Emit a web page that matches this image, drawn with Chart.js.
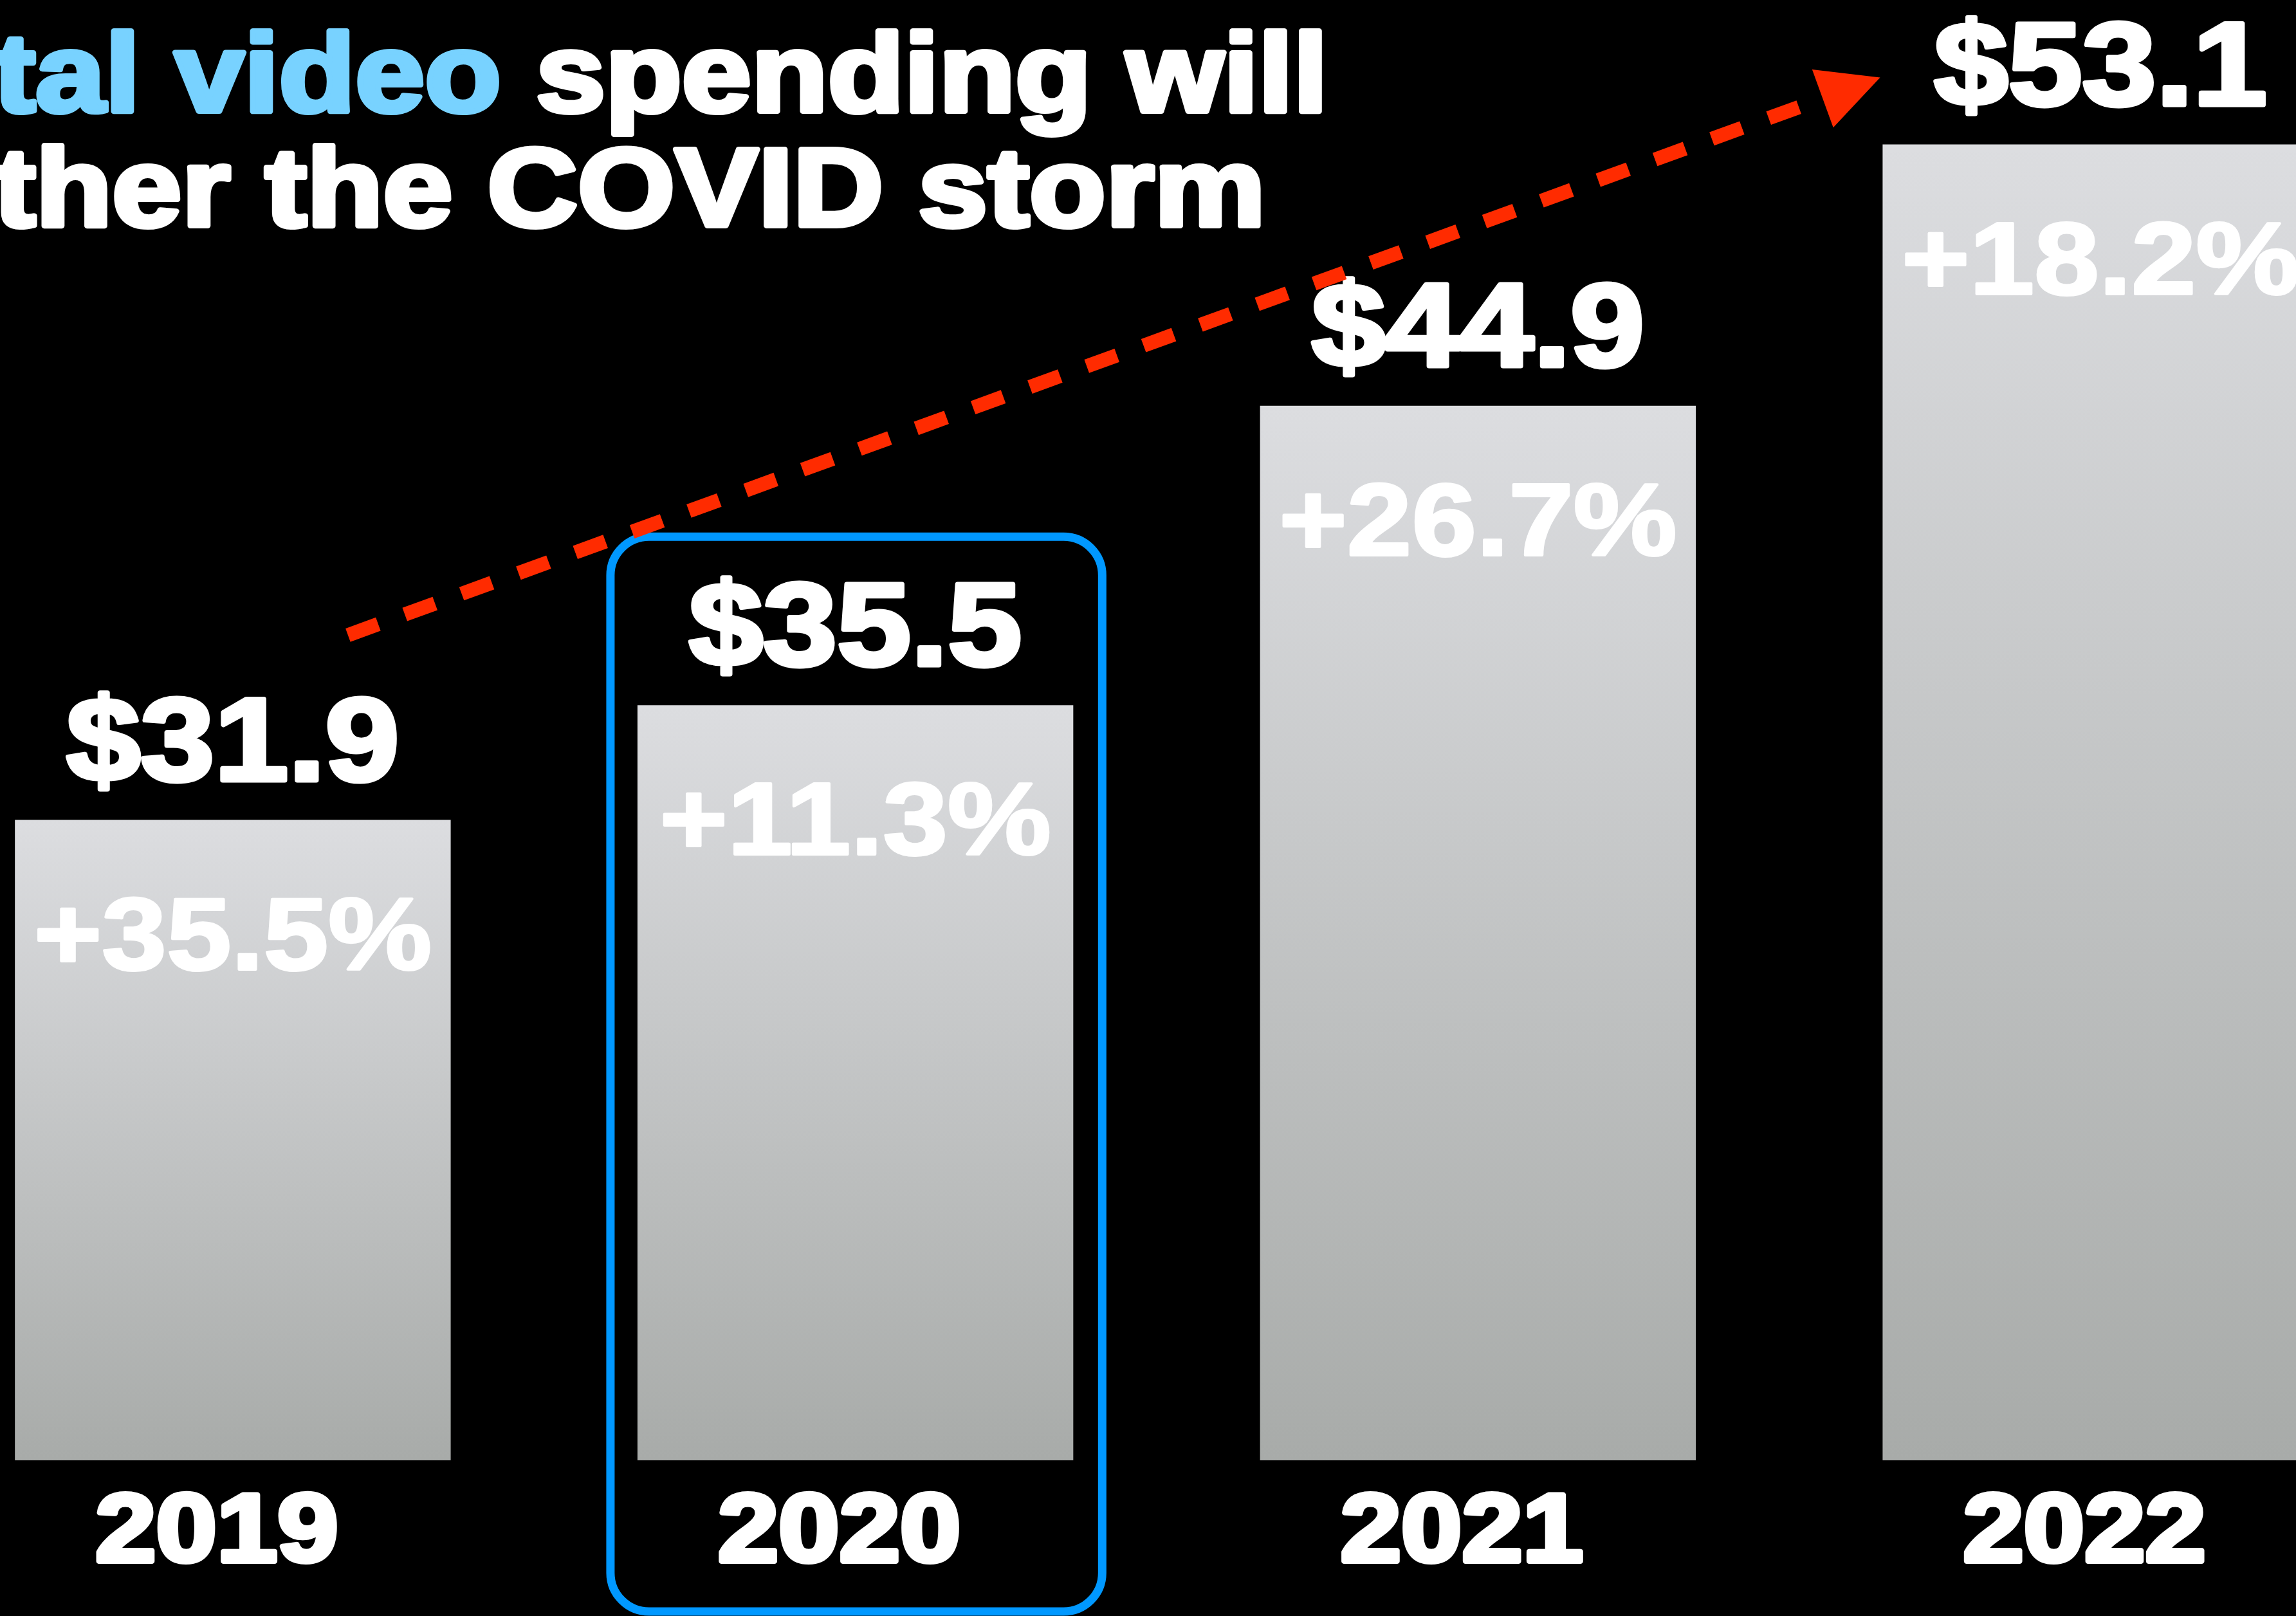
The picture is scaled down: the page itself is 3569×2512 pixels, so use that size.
<!DOCTYPE html>
<html>
<head>
<meta charset="utf-8">
<script src="https://cdn.jsdelivr.net/npm/chart.js@4.4.1/dist/chart.umd.min.js"></script>
<style>
    html, body { margin: 0; padding: 0; background: #000; overflow: hidden; }
    body { width: 3569px; height: 2512px; position: relative; }
    #chart { position: absolute; left: -122px; top: 0; }
</style>
</head>
<body>
<canvas id="chart" width="3871" height="2512"></canvas>
<script>
const years = ['2019', '2020', '2021', '2022'];
const spending = [31.9, 35.5, 44.9, 53.1];      // US$ billions
const growth = [35.5, 11.3, 26.7, 18.2];        // % change vs prior year
const highlightYear = '2020';
const titleLines = [
    [['Digital video', '#78d2ff'], [' spending will', '#ffffff']],
    [['weather the COVID storm', '#ffffff']]
];
// dashed trend arrow, in category index / value units
const arrowFrom = { x: 0.185, y: 37.7 };
const arrowTo = { x: 2.646, y: 55.2 };

const FONT = '"Liberation Sans", Arial, sans-serif';
const STRETCH = 1.13;

// wide, extra-heavy text: bold face stretched sideways plus an outline of the same colour
function heavyText(ctx, text, x, y, size, color, weight, align) {
    ctx.save();
    ctx.translate(x, y);
    ctx.scale(STRETCH, 1);
    ctx.font = 'bold ' + size + 'px ' + FONT;
    ctx.fillStyle = color;
    ctx.strokeStyle = color;
    ctx.lineWidth = weight;
    ctx.lineJoin = 'round';
    ctx.textAlign = align || 'center';
    ctx.textBaseline = 'alphabetic';
    ctx.fillText(text, 0, 0);
    if (weight > 0) {
        ctx.strokeText(text, 0, 0);
    }
    ctx.restore();
}

function textWidth(ctx, text, size) {
    ctx.save();
    ctx.font = 'bold ' + size + 'px ' + FONT;
    const w = ctx.measureText(text).width * STRETCH;
    ctx.restore();
    return w;
}

function roundRectPath(ctx, x0, y0, x1, y1, r) {
    ctx.beginPath();
    ctx.moveTo(x0 + r, y0);
    ctx.lineTo(x1 - r, y0);
    ctx.arcTo(x1, y0, x1, y0 + r, r);
    ctx.lineTo(x1, y1 - r);
    ctx.arcTo(x1, y1, x1 - r, y1, r);
    ctx.lineTo(x0 + r, y1);
    ctx.arcTo(x0, y1, x0, y1 - r, r);
    ctx.lineTo(x0, y0 + r);
    ctx.arcTo(x0, y0, x0 + r, y0, r);
    ctx.closePath();
}

const overlay = {
    id: 'overlay',
    afterDatasetsDraw(chart) {
        const ctx = chart.ctx;
        const area = chart.chartArea;
        const xs = chart.scales.x;
        const ys = chart.scales.y;
        const bars = chart.getDatasetMeta(0).data;

        // headline, its left end runs off the canvas edge
        const titleSize = 172;
        const firstWidth = titleLines[0].reduce((w, p) => w + textWidth(ctx, p[0], titleSize), 0);
        const titleX = 2186 - firstWidth;
        titleLines.forEach((parts, row) => {
            let x = titleX;
            parts.forEach(([text, color]) => {
                heavyText(ctx, text, x, 173 + row * 178, titleSize, color, 8, 'left');
                x += textWidth(ctx, text, titleSize);
            });
        });

        bars.forEach((bar, i) => {
            heavyText(ctx, '$' + spending[i].toFixed(1), bar.x, bar.y - 62, 183, '#ffffff', 7);
            heavyText(ctx, '+' + growth[i].toFixed(1) + '%', bar.x, bar.y + 232, 160, '#ffffff', 4);
            heavyText(ctx, years[i], bar.x - 25, area.bottom + 157, 150, '#ffffff', 8);
        });

        // outline around the highlighted year
        const hb = bars[years.indexOf(highlightYear)];
        ctx.save();
        ctx.strokeStyle = '#0098ff';
        ctx.lineWidth = 13;
        roundRectPath(ctx, hb.x - hb.width / 2 - 42, hb.y - 262,
            hb.x + hb.width / 2 + 45, chart.height - 7, 60);
        ctx.stroke();
        ctx.restore();

        // dashed growth arrow
        const sx = xs.getPixelForValue(arrowFrom.x);
        const sy = ys.getPixelForValue(arrowFrom.y);
        const ex = xs.getPixelForValue(arrowTo.x);
        const ey = ys.getPixelForValue(arrowTo.y);
        const ang = Math.atan2(ey - sy, ex - sx);
        const headLen = 95;
        const headHalf = 48;
        const bx = ex - Math.cos(ang) * headLen;
        const by = ey - Math.sin(ang) * headLen;
        ctx.save();
        ctx.strokeStyle = '#ff2b00';
        ctx.fillStyle = '#ff2b00';
        ctx.lineWidth = 22;
        ctx.lineCap = 'butt';
        ctx.setLineDash([50, 44]);
        ctx.beginPath();
        ctx.moveTo(sx, sy);
        ctx.lineTo(bx + Math.cos(ang) * 10, by + Math.sin(ang) * 10);
        ctx.stroke();
        ctx.setLineDash([]);
        ctx.beginPath();
        ctx.moveTo(ex, ey);
        ctx.lineTo(bx - Math.sin(ang) * headHalf, by + Math.cos(ang) * headHalf);
        ctx.lineTo(bx + Math.sin(ang) * headHalf, by - Math.cos(ang) * headHalf);
        ctx.closePath();
        ctx.fill();
        ctx.restore();
    }
};

document.addEventListener('DOMContentLoaded', () => {
    const data = {
        labels: years,
        datasets: [{
            label: 'Digital video ad spending ($B)',
            data: spending,
            backgroundColor: (c) => {
                const area = c.chart.chartArea;
                if (!area || c.dataIndex === undefined) {
                    return '#c4c5c7';
                }
                const top = c.chart.scales.y.getPixelForValue(spending[c.dataIndex]);
                const g = c.chart.ctx.createLinearGradient(0, top, 0, area.bottom);
                g.addColorStop(0, '#dcdde0');
                g.addColorStop(1, '#a8aba9');
                return g;
            },
            borderWidth: 0,
            barPercentage: 0.7,
            categoryPercentage: 1.0
        }]
    };

    const config = {
        type: 'bar',
        data: data,
        options: {
            responsive: false,
            animation: false,
            layout: {
                padding: { top: 81, bottom: 242, left: 0, right: 0 }
            },
            plugins: {
                legend: { display: false },
                title: { display: false },
                tooltip: { enabled: false }
            },
            scales: {
                x: { display: false },
                y: { display: false, min: 11.8, max: 56 }
            }
        },
        plugins: [overlay]
    };

    const ctx = document.getElementById('chart').getContext('2d');
    new Chart(ctx, config);
});
</script>
</body>
</html>
